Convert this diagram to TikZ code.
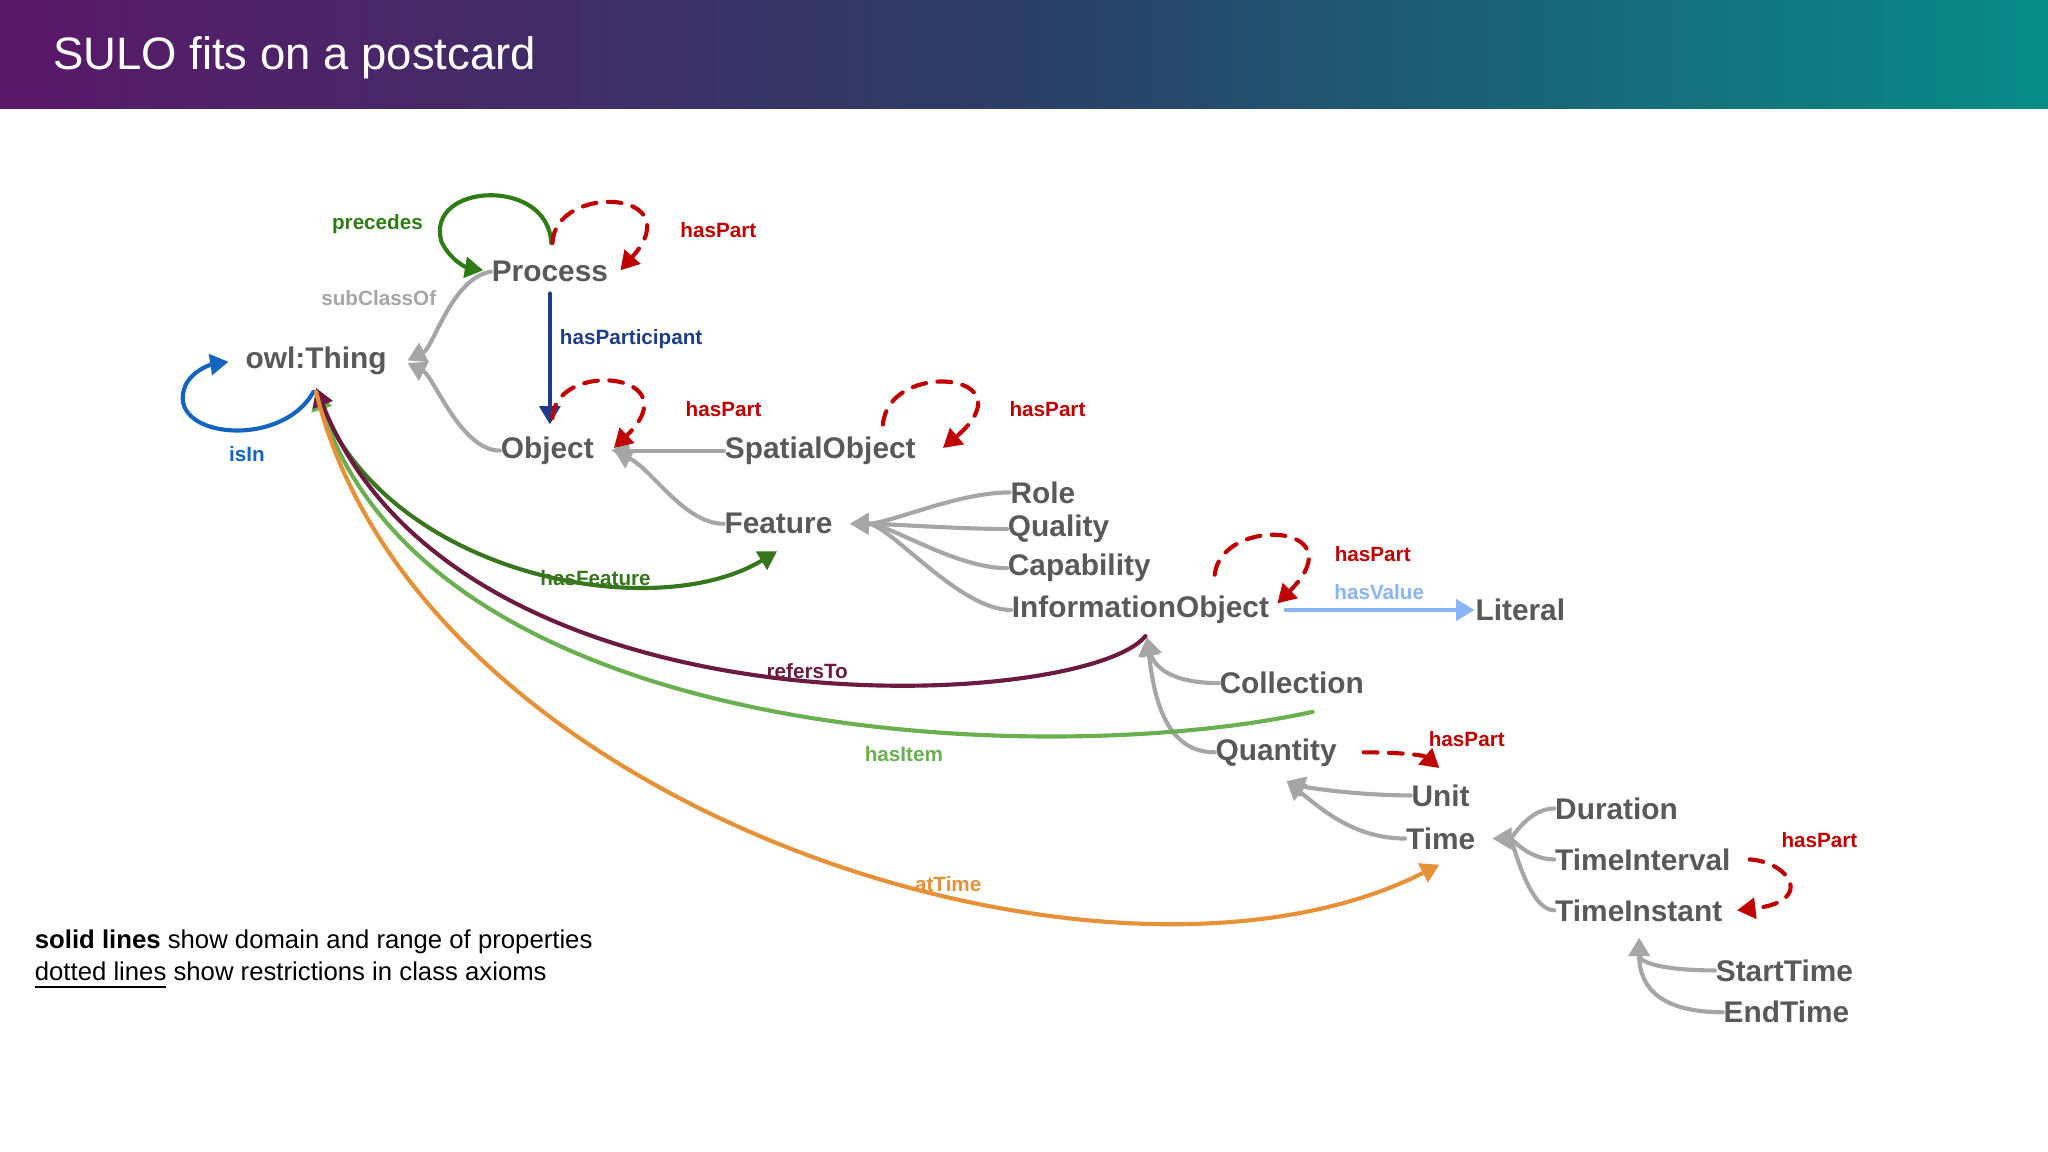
\documentclass[tikz,border=0pt]{standalone}
\usepackage{fontspec}
\setmainfont{Liberation Sans}
\usepackage{tikz}
\usetikzlibrary{arrows.meta,fadings}
\definecolor{clsgray}{HTML}{595959}
\definecolor{isagray}{HTML}{A6A6A6}
\definecolor{partred}{HTML}{C00000}
\definecolor{precgreen}{HTML}{2E7D14}
\definecolor{partnavy}{HTML}{1F3C88}
\definecolor{isinblue}{HTML}{1565C0}
\definecolor{valblue}{HTML}{8AB4F8}
\definecolor{refmaroon}{HTML}{6B1A40}
\definecolor{itemgreen}{HTML}{6AAF50}
\definecolor{timeorange}{HTML}{E69138}
\definecolor{featgreen}{HTML}{38761D}
\definecolor{bandpurple}{HTML}{5A1868}
\definecolor{bandblue}{HTML}{2B3E66}
\definecolor{bandteal}{HTML}{078C88}
\tikzset{
  cls/.style={font=\fontsize{6.5}{7}\selectfont\bfseries, text=clsgray, inner sep=0pt},
  lbl/.style={font=\fontsize{4.5}{5}\selectfont\bfseries, inner sep=0pt},
  tip/.style={-{Triangle[length=4pt,width=4.5pt]}},
  isa/.style={tip, draw=isagray, line width=0.9pt},
  part/.style={tip, draw=partred, line width=0.9pt, dash pattern=on 3pt off 2.5pt},
  prop/.style={tip, line width=0.9pt}
}
\begin{document}
\begin{tikzpicture}[x=0.01cm,y=-0.01cm,line cap=round]
\useasboundingbox (0,0) rectangle (1568,882);
% banner
\shade[left color=bandpurple, right color=bandteal, middle color=bandblue] (0,0) rectangle (1568,83);
\node[anchor=west, text=white, font=\fontsize{9.9}{11}\selectfont, inner sep=0pt] (title) at (40,44) {SULO fits on a postcard};
% classes
\node[cls] (thing) at (242,276) {owl:Thing};
\node[cls] (process) at (421,208) {Process};
\node[cls] (object) at (419,345) {Object};
\node[cls] (spatial) at (628,345) {SpatialObject};
\node[cls] (feature) at (596,401) {Feature};
\node[cls, anchor=west] (role) at (773,377) {Role};
\node[cls, anchor=west] (quality) at (771,405) {Quality};
\node[cls, anchor=west] (capability) at (771,435) {Capability};
\node[cls, anchor=west] (info) at (774,467) {InformationObject};
\node[cls] (literal) at (1164,467) {Literal};
\node[cls] (collection) at (989,523) {Collection};
\node[cls] (quantity) at (977,576) {Quantity};
\node[cls] (unit) at (1103,609) {Unit};
\node[cls] (time) at (1103,642) {Time};
\node[cls, anchor=west] (duration) at (1190,619) {Duration};
\node[cls, anchor=west] (interval) at (1190,658) {TimeInterval};
\node[cls, anchor=west] (instant) at (1190,697) {TimeInstant};
\node[cls, anchor=west] (start) at (1313,743) {StartTime};
\node[cls, anchor=west] (end) at (1319,775) {EndTime};
% subclass links
\draw[isa] (process.west) .. controls +(-30,5) and +(20,-10) .. (312,276);
\draw[isa] (object.west) .. controls +(-30,0) and +(20,10) .. (312,278);
\draw[isa] (spatial.west) -- (468,345);
\draw[isa] (feature.west) .. controls +(-30,0) and +(30,15) .. (470,345);
\foreach \n in {role,quality,capability,info}
  \draw[isa] (\n.west) .. controls +(-40,0) and +(30,0) .. (651,401);
\draw[isa] (collection.west) .. controls +(-40,0) and +(5,20) .. (878,488);
\draw[isa] (quantity.west) .. controls +(-40,0) and +(5,40) .. (878,488);
\draw[isa] (unit.west) .. controls +(-40,0) and +(15,5) .. (985,598);
\draw[isa] (time.west) .. controls +(-40,0) and +(25,20) .. (985,598);
\foreach \n in {duration,interval,instant}
  \draw[isa] (\n.west) .. controls +(-20,0) and +(15,0) .. (1143,642);
\draw[isa] (start.west) .. controls +(-35,0) and +(0,20) .. (1255,718);
\draw[isa] (end.west) .. controls +(-45,0) and +(0,40) .. (1255,718);
\node[lbl, text=isagray] (subclassof) at (290,228) {subClassOf};
% properties
\draw[prop, draw=precgreen] (422,186) .. controls (420,135) and (325,140) .. (338,185) .. controls (345,200) and (358,205) .. (370,207);
\node[lbl, text=precgreen] (precedes) at (289,172) {precedes};
\draw[prop, draw=partnavy] (process.south) ++(0,8) -- (421,325);
\node[lbl, text=partnavy, anchor=west] (hasparticipant) at (428,260) {hasParticipant};
\draw[prop, draw=isinblue] (240,300) .. controls (215,345) and (125,335) .. (142,295) .. controls (148,283) and (162,279) .. (175,277);
\node[lbl, text=isinblue] (isin) at (189,348) {isIn};
\draw[prop, draw=featgreen] (242,300) .. controls (290,440) and (500,480) .. (595,422);
\node[lbl, text=featgreen] (hasfeature) at (456,443) {hasFeature};
\draw[prop, draw=itemgreen] (1005,545) .. controls (800,590) and (330,570) .. (242,300);
\node[lbl, text=itemgreen] (hasitem) at (692,577) {hasItem};
\draw[prop, draw=refmaroon] (877,487) .. controls (830,545) and (350,570) .. (242,297);
\node[lbl, text=refmaroon] (refersto) at (618,514) {refersTo};
\draw[prop, draw=timeorange] (242,300) .. controls (320,620) and (850,790) .. (1102,662);
\node[lbl, text=timeorange] (attime) at (726,677) {atTime};
\draw[prop, draw=valblue] (info.east) ++(12,0) -- (literal.west);
\node[lbl, text=valblue] (hasvalue) at (1056,453) {hasValue};
% hasPart restrictions
\draw[part] (423,186) .. controls (425,140) and (530,145) .. (475,207);
\node[lbl, text=partred] (hp1) at (550,176) {hasPart};
\draw[part] (423,320) .. controls (425,275) and (530,285) .. (470,343);
\node[lbl, text=partred] (hp2) at (554,313) {hasPart};
\draw[part] (676,325) .. controls (680,275) and (790,285) .. (722,343);
\node[lbl, text=partred] (hp3) at (802,313) {hasPart};
\draw[part] (930,440) .. controls (935,395) and (1040,400) .. (978,462);
\node[lbl, text=partred] (hp4) at (1051,424) {hasPart};
\draw[part] (quantity.east) ++(20,0) .. controls (1070,576) and (1090,578) .. (1102,588);
\node[lbl, text=partred] (hp5) at (1123,566) {hasPart};
\draw[part] (interval.east) ++(14,0) .. controls (1370,660) and (1390,690) .. (1330,697);
\node[lbl, text=partred] (hp6) at (1393,643) {hasPart};
% legend
\node[anchor=west, inner sep=0pt, font=\fontsize{5.6}{7}\selectfont] (legend1) at (26,721) {\textbf{solid lines} show domain and range of properties};
\node[anchor=west, inner sep=0pt, font=\fontsize{5.6}{7}\selectfont] (legend2) at (26,747) {\underline{dotted lines} show restrictions in class axioms};
\end{tikzpicture}
\end{document}
